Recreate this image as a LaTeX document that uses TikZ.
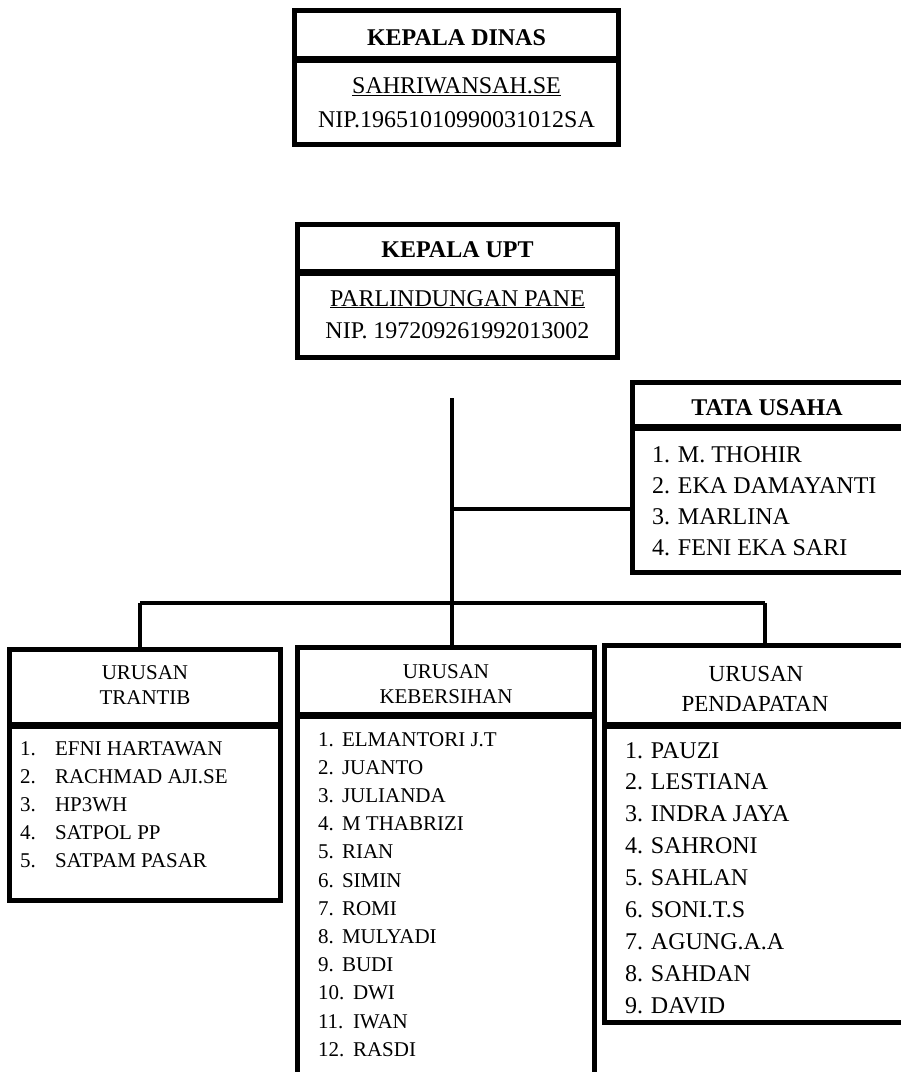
\documentclass[tikz,border=0pt]{standalone}
\usepackage{fontspec}
\setmainfont{Liberation Serif}
\begin{document}
\begin{tikzpicture}[x=1pt,y=-1pt,
  boxline/.style={draw, line width=5pt, inner sep=0pt, outer sep=0pt, rectangle},
  conn/.style={line width=4pt},
  big/.style={font=\fontsize{24}{28}\selectfont, inner sep=0pt, outer sep=0pt},
  bigb/.style={font=\fontsize{24}{28}\selectfont\bfseries, inner sep=0pt, outer sep=0pt},
  mid/.style={font=\fontsize{23}{27}\selectfont, inner sep=0pt, outer sep=0pt},
  small/.style={font=\fontsize{21}{25}\selectfont, inner sep=0pt, outer sep=0pt}]
\path[use as bounding box, clip] (0,0) rectangle (901,1072);
\fill[white] (0,0) rectangle (901,1072);

% KEPALA DINAS
\node[boxline, minimum width=324pt, minimum height=47.5pt] (dinasH) at (456.5,34.25) {};
\node[boxline, minimum width=324pt, minimum height=84.5pt] (dinasB) at (456.5,102.25) {};
\node[bigb, anchor=base] (dinasT) at (456.5,45) {KEPALA DINAS};
\node[big, anchor=base] (dinasN) at (456.5,93) {\underline{SAHRIWANSAH.SE}};
\node[big, anchor=base] (dinasP) at (456.5,127) {NIP.19651010990031012SA};

% KEPALA UPT
\node[boxline, minimum width=320pt, minimum height=46.5pt] (uptH) at (457.5,247.75) {};
\node[boxline, minimum width=320pt, minimum height=84.5pt] (uptB) at (457.5,315.25) {};
\node[bigb, anchor=base] (uptT) at (457.5,257) {KEPALA UPT};
\node[big, anchor=base] (uptN) at (457.5,306) {\underline{PARLINDUNGAN PANE}};
\node[big, anchor=base] (uptP) at (457.5,338) {NIP. 197209261992013002};

% TATA USAHA
\node[boxline, minimum width=273.5pt, minimum height=43.5pt] (tataH) at (769.25,404.25) {};
\node[boxline, minimum width=273.5pt, minimum height=144.5pt] (tataB) at (769.25,500.25) {};
\node[bigb, anchor=base] (tataT) at (767,415) {TATA USAHA};
\node[big, anchor=base west] (tata1) at (652,462) {1. M. THOHIR};
\node[big, anchor=base west] (tata2) at (652,493) {2. EKA DAMAYANTI};
\node[big, anchor=base west] (tata3) at (652,524) {3. MARLINA};
\node[big, anchor=base west] (tata4) at (652,555) {4. FENI EKA SARI};

% URUSAN TRANTIB
\node[boxline, minimum width=271pt, minimum height=75pt] (tranH) at (145,687) {};
\node[boxline, minimum width=271pt, minimum height=174pt] (tranB) at (145,813.5) {};
\node[small, anchor=base] (tranT1) at (145,679) {URUSAN};
\node[small, anchor=base] (tranT2) at (145,704) {TRANTIB};
\node[small, anchor=base west] (tranN1) at (20,755) {1.};
\node[small, anchor=base west] (tranM1) at (55,755) {EFNI HARTAWAN};
\node[small, anchor=base west] (tranN2) at (20,783.2) {2.};
\node[small, anchor=base west] (tranM2) at (55,783.2) {RACHMAD AJI.SE};
\node[small, anchor=base west] (tranN3) at (20,811.4) {3.};
\node[small, anchor=base west] (tranM3) at (55,811.4) {HP3WH};
\node[small, anchor=base west] (tranN4) at (20,839.6) {4.};
\node[small, anchor=base west] (tranM4) at (55,839.6) {SATPOL PP};
\node[small, anchor=base west] (tranN5) at (20,867.8) {5.};
\node[small, anchor=base west] (tranM5) at (55,867.8) {SATPAM PASAR};

% URUSAN KEBERSIHAN
\node[boxline, minimum width=297pt, minimum height=66.5pt] (kebH) at (446,680.75) {};
\node[boxline, minimum width=297pt, minimum height=379pt] (kebB) at (446,905.5) {};
\node[small, anchor=base] (kebT1) at (446,678) {URUSAN};
\node[small, anchor=base] (kebT2) at (446,703) {KEBERSIHAN};
\foreach \num/\name [count=\i from 0] in {1./ELMANTORI J.T, 2./JUANTO, 3./JULIANDA, 4./M THABRIZI, 5./RIAN, 6./SIMIN, 7./ROMI, 8./MULYADI, 9./BUDI, 10./DWI, 11./IWAN, 12./RASDI}{
  \pgfmathsetmacro{\yy}{746+28.2*\i}
  \ifnum\i<9
    \node[small, anchor=base west] (kebN\i) at (318,\yy) {\num};
    \node[small, anchor=base west] (kebM\i) at (342,\yy) {\name};
  \else
    \node[small, anchor=base west] (kebN\i) at (318,\yy) {\num};
    \node[small, anchor=base west] (kebM\i) at (353,\yy) {\name};
  \fi
}

% URUSAN PENDAPATAN
\node[boxline, minimum width=305.5pt, minimum height=79pt] (penH) at (757.25,685) {};
\node[boxline, minimum width=305.5pt, minimum height=296pt] (penB) at (757.25,874.5) {};
\node[mid, anchor=base] (penT1) at (756,681) {URUSAN};
\node[mid, anchor=base] (penT2) at (755,711) {PENDAPATAN};
\foreach \name [count=\i from 0] in {1. PAUZI, 2. LESTIANA, 3. INDRA JAYA, 4. SAHRONI, 5. SAHLAN, 6. SONI.T.S, 7. AGUNG.A.A, 8. SAHDAN, 9. DAVID}{
  \pgfmathsetmacro{\yy}{758+31.9*\i}
  \node[big, anchor=base west] (penM\i) at (625,\yy) {\name};
}

% CONNECTORS
\coordinate (trunkTop) at (452,398);
\coordinate (branch) at (452,509);
\coordinate (barL) at (140,603);
\coordinate (barR) at (765,603);
\draw[conn] (trunkTop) -- (trunkTop |- kebH.north);
\draw[conn] (branch) -- (branch -| tataB.west);
\draw[conn] (barL) -- (barR);
\draw[conn] (barL) -- (barL |- tranH.north);
\draw[conn] (barR) -- (barR |- penH.north);
\end{tikzpicture}
\end{document}
